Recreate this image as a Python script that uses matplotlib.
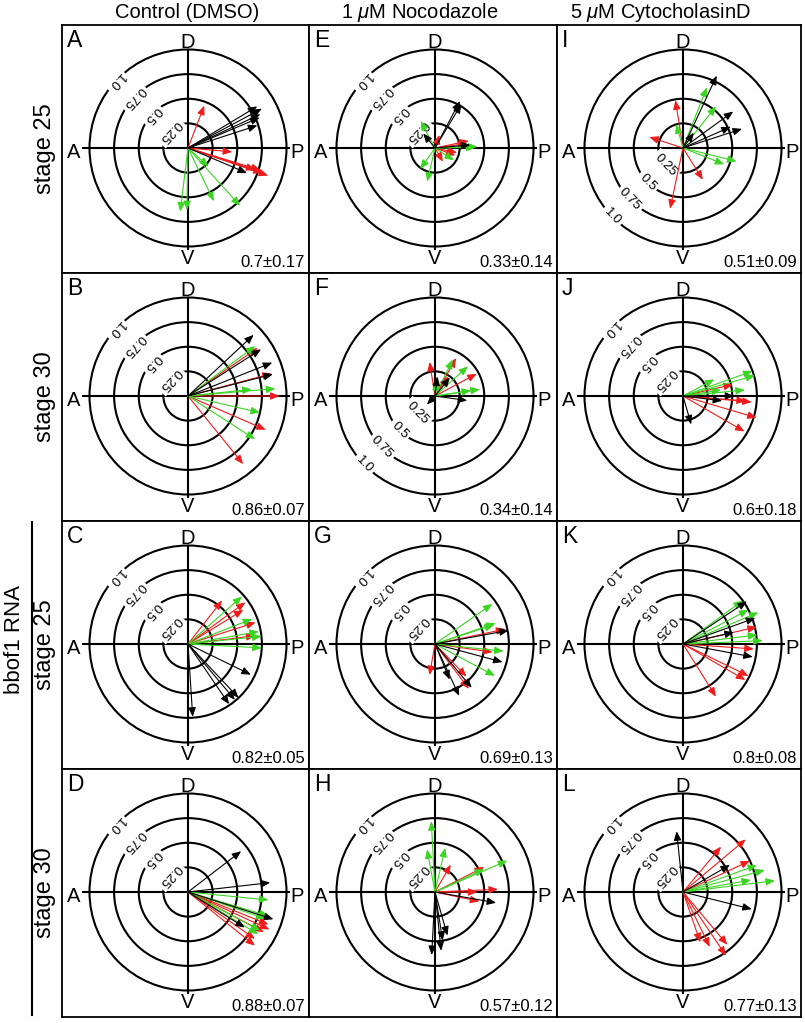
import matplotlib
matplotlib.use("Agg")
import matplotlib.pyplot as plt
import numpy as np
from matplotlib.patches import Circle

plt.rcParams["font.family"] = ["Liberation Sans", "DejaVu Sans"]
plt.rcParams["mathtext.fontset"] = "custom"
plt.rcParams["mathtext.rm"] = "Liberation Sans"
plt.rcParams["mathtext.it"] = "Liberation Sans:italic"

RED = "#ee1c1c"
GREEN = "#3bd422"
BLACK = "#000000"

col_titles = ["Control (DMSO)", r"1 $\mu$M Nocodazole", r"5 $\mu$M CytocholasinD"]
row_labels = ["stage 25", "stage 30", "stage 25", "stage 30"]
group_label = "bbof1 RNA"
letters = [["A", "E", "I"], ["B", "F", "J"], ["C", "G", "K"], ["D", "H", "L"]]
means = [["0.7±0.17", "0.33±0.14", "0.51±0.09"],
         ["0.86±0.07", "0.34±0.14", "0.6±0.18"],
         ["0.82±0.05", "0.69±0.13", "0.8±0.08"],
         ["0.88±0.07", "0.57±0.12", "0.77±0.13"]]
ring_values = [0.25, 0.5, 0.75, 1.0]
ring_labels = ["0.25", "0.5", "0.75", "1.0"]
lower_ring_labels = ["F", "I"]   # panels with ring labels in the lower-left

# arrows: (angle in degrees from P, counter-clockwise, length)
A_red = [(69, 0.46), (-5, 0.45), (-18, 0.72), (-17, 0.77), (-18.5, 0.80), (-19, 0.86)]
A_green = [(-42, 0.28), (-64, 0.60), (-48, 0.79), (-97, 0.65), (-91, 0.63)]
A_black = [(31, 0.82), (28, 0.85), (25, 0.81), (23, 0.79), (18, 0.74), (-23, 0.65)]

E_red = [(71, 0.14), (12, 0.35), (8, 0.33), (-12, 0.23), (-20, 0.22), (-60, 0.16)]
E_green = [(118, 0.31), (2, 0.43), (1, 0.41), (-33, 0.23), (-125, 0.26), (-103, 0.35)]
E_black = [(62, 0.54), (59, 0.52), (129, 0.19), (5, 0.36)]

I_red = [(99, 0.49), (162, 0.36), (-58, 0.38), (-102, 0.63)]
I_green = [(68.5, 0.66), (51.6, 0.54), (106, 0.25), (-14, 0.56), (-21.6, 0.45)]
I_black = [(65, 0.81), (36, 0.63), (24, 0.53), (18, 0.63), (55, 0.19)]

B_red = [(34.6, 0.86), (15, 0.88), (0, 0.93), (-23.5, 0.86), (-51, 0.89)]
B_green = [(36.6, 0.85), (6, 0.65), (4.8, 0.89), (-13, 0.75), (-32.8, 0.81)]
B_black = [(43, 0.91), (32.6, 0.88), (21.6, 0.92), (14.4, 0.89)]

F_red = [(99, 0.35), (56, 0.24), (61, 0.44), (28, 0.48)]
F_green = [(81, 0.15), (64, 0.41), (42, 0.45), (8.4, 0.46), (8.5, 0.37)]
F_black = [(83, 0.20), (51, 0.24), (-8, 0.33), (-133, 0.12)]

J_red = [(13, 0.52), (-4.5, 0.64), (-5, 0.70), (-16.5, 0.78), (-30, 0.72)]
J_green = [(19.7, 0.75), (16, 0.76), (28, 0.36), (9, 0.39), (5.6, 0.63)]
J_black = [(0, 0.52), (-7, 0.40), (-74, 0.30)]

C_red = [(52, 0.56), (36, 0.72), (31.7, 0.66), (17.7, 0.72), (7, 0.69)]
C_green = [(41.4, 0.73), (21.3, 0.70), (10, 0.73), (6, 0.75), (-3, 0.75)]
C_black = [(-26, 0.71), (-46.8, 0.75), (-50, 0.74), (-55.7, 0.74), (-86.3, 0.74)]

G_red = [(12, 0.73), (-8, 0.59), (-46, 0.46), (-53, 0.57), (-100, 0.32)]
G_green = [(35, 0.71), (19, 0.65), (18, 0.63), (-6, 0.70), (-28, 0.69)]
G_black = [(10.5, 0.76), (-15, 0.71), (-50, 0.58), (-67.6, 0.39), (-65, 0.58)]

K_red = [(13, 0.77), (-4, 0.72), (-26, 0.74), (-30, 0.73), (-58, 0.63)]
K_green = [(36, 0.75), (27.6, 0.75), (22.7, 0.83), (7, 0.76), (2.4, 0.81)]
K_black = [(33.7, 0.78), (19.8, 0.78), (13, 0.53), (-10.5, 0.72)]

D_red = [(-24.7, 0.91), (-27.9, 0.87), (-35, 0.83), (-38.7, 0.87), (-22, 0.88)]
D_green = [(-5.7, 0.82), (-16.6, 0.85), (-19, 0.83), (-28, 0.83), (-31, 0.83)]
D_black = [(37.5, 0.68), (6.5, 0.84), (-17.7, 0.91), (-32, 0.68)]

H_red = [(60, 0.32), (27, 0.56), (0, 0.43), (2.4, 0.64), (-12, 0.46)]
H_green = [(93, 0.72), (100.6, 0.44), (77, 0.46), (23.5, 0.80), (25, 0.55)]
H_black = [(-10, 0.63), (-93, 0.64), (-84, 0.60), (-81, 0.50), (-74, 0.46)]

L_red = [(50, 0.60), (40, 0.83), (25, 0.75), (-64, 0.62), (-71, 0.54), (-56, 0.78), (-50, 0.70)]
L_green = [(15, 0.86), (7, 0.94), (20, 0.80), (10, 0.70)]
L_black = [(96, 0.62), (-14, 0.72), (30, 0.55)]

arrows = {
    "A": (A_red, A_green, A_black), "B": (B_red, B_green, B_black),
    "C": (C_red, C_green, C_black), "D": (D_red, D_green, D_black),
    "E": (E_red, E_green, E_black), "F": (F_red, F_green, F_black),
    "G": (G_red, G_green, G_black), "H": (H_red, H_green, H_black),
    "I": (I_red, I_green, I_black), "J": (J_red, J_green, J_black),
    "K": (K_red, K_green, K_black), "L": (L_red, L_green, L_black),
}

W, H = 805, 1023
fig = plt.figure(figsize=(W / 100, H / 100), dpi=100)

col_left = [62, 309, 557]
col_w = [247, 248, 244]
row_top = [25, 273, 521, 769]
row_h = 248
cx, cy = 126, 123      # circle centre inside panel, px
scale = 98.5           # px per unit radius


def draw_panel(ax, letter, mean, pw):
    ax.set_xlim(-cx / scale, (pw - cx) / scale)
    ax.set_ylim(-(row_h - cy) / scale, cy / scale)
    ax.set_xticks([])
    ax.set_yticks([])
    for s in ax.spines.values():
        s.set_linewidth(1.3)
    for r in ring_values:
        ax.add_patch(Circle((0, 0), r, fill=False, lw=1.5, color="black", zorder=2))
    ax.plot([-1.07, 1.03], [0, 0], color="black", lw=1.5, zorder=2)
    ax.plot([0, 0], [-1.025, 1.0], color="black", lw=1.5, zorder=2)

    ang = 224 if letter in lower_ring_labels else 137
    rot = ang + 90
    for r, lab in zip(ring_values, ring_labels):
        a = np.deg2rad(ang)
        ax.text(r * np.cos(a), r * np.sin(a), lab, rotation=rot, rotation_mode="anchor",
                ha="center", va="center", fontsize=9.5, zorder=3,
                bbox=dict(boxstyle="square,pad=0.2", fc="white", ec="none"))

    ax.text(0, 1.015, "D", ha="center", va="baseline", fontsize=14.5)
    ax.text(0, -1.18, "V", ha="center", va="baseline", fontsize=14.5)
    ax.text(-1.16, -0.10, "A", ha="center", va="baseline", fontsize=14.5)
    ax.text(1.11, -0.10, "P", ha="center", va="baseline", fontsize=14.5)
    ax.text(0.02, 0.911, letter, transform=ax.transAxes, ha="left", va="baseline", fontsize=16.5)
    ax.text(0.984, 0.024, mean, transform=ax.transAxes, ha="right", va="baseline", fontsize=12)

    for data, color in zip(arrows[letter], [RED, GREEN, BLACK]):
        for deg, r in data:
            a = np.deg2rad(deg)
            ax.annotate("", xy=(r * np.cos(a), r * np.sin(a)), xytext=(0, 0),
                        arrowprops=dict(arrowstyle="-|>,head_length=0.6,head_width=0.25",
                                        color=color, lw=0.8, mutation_scale=9,
                                        shrinkA=0, shrinkB=0),
                        zorder=4)


for i in range(4):
    for j in range(3):
        l, t, pw = col_left[j], row_top[i], col_w[j]
        ax = fig.add_axes([l / W, 1 - (t + row_h) / H, pw / W, row_h / H])
        draw_panel(ax, letters[i][j], means[i][j], pw)

title_x = [187, 420, 660]
for x, t in zip(title_x, col_titles):
    fig.text(x / W, 1 - 13 / H, t, ha="center", va="center", fontsize=14.5)

for i, lab in enumerate(row_labels):
    yc = row_top[i] + row_h / 2
    fig.text(45 / W, 1 - yc / H, lab, rotation=90, ha="center", va="center", fontsize=17)

fig.add_artist(plt.Line2D([32 / W, 32 / W], [1 - 522 / H, 1 - 1015 / H],
                          color="black", lw=1.5))
fig.text(14 / W, 1 - 640 / H, group_label, rotation=90, ha="center", va="center", fontsize=16)

fig.savefig("out.png", dpi=100, facecolor="white")
